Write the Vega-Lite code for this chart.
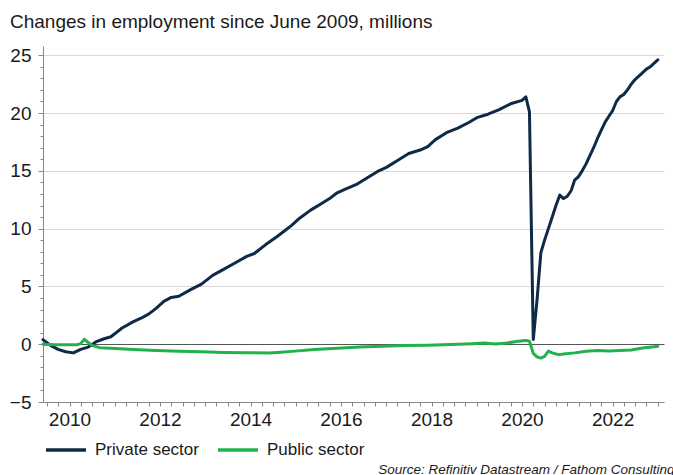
{
  "$schema": "https://vega.github.io/schema/vega-lite/v6.json",
  "width": 621,
  "height": 356,
  "autosize": {"type": "none"},
  "padding": {"left": 43, "top": 46, "right": 9, "bottom": 73},
  "background": "white",
  "config": {
    "font": "Liberation Sans",
    "view": {"stroke": null}
  },
  "title": {
    "text": "Changes in employment since June 2009, millions",
    "anchor": "start",
    "frame": "group",
    "dx": -33,
    "offset": 14,
    "fontSize": 19,
    "fontWeight": "normal",
    "color": "#1a1a1a"
  },
  "datasets": {
    "emp": [
      {"date": "2009-06-01", "series": "Private sector", "value": 0.4},
      {"date": "2009-08-01", "series": "Private sector", "value": -0.1},
      {"date": "2009-10-01", "series": "Private sector", "value": -0.45},
      {"date": "2009-12-01", "series": "Private sector", "value": -0.65},
      {"date": "2010-02-01", "series": "Private sector", "value": -0.75},
      {"date": "2010-04-01", "series": "Private sector", "value": -0.45},
      {"date": "2010-06-01", "series": "Private sector", "value": -0.25},
      {"date": "2010-08-01", "series": "Private sector", "value": 0.2},
      {"date": "2010-10-01", "series": "Private sector", "value": 0.45},
      {"date": "2010-12-01", "series": "Private sector", "value": 0.65},
      {"date": "2011-01-01", "series": "Private sector", "value": 0.9},
      {"date": "2011-03-01", "series": "Private sector", "value": 1.4},
      {"date": "2011-06-01", "series": "Private sector", "value": 1.95},
      {"date": "2011-08-01", "series": "Private sector", "value": 2.25},
      {"date": "2011-10-01", "series": "Private sector", "value": 2.6},
      {"date": "2011-12-01", "series": "Private sector", "value": 3.1},
      {"date": "2012-02-01", "series": "Private sector", "value": 3.7},
      {"date": "2012-04-01", "series": "Private sector", "value": 4.05},
      {"date": "2012-06-01", "series": "Private sector", "value": 4.15},
      {"date": "2012-09-01", "series": "Private sector", "value": 4.7},
      {"date": "2012-12-01", "series": "Private sector", "value": 5.2},
      {"date": "2013-03-01", "series": "Private sector", "value": 5.95},
      {"date": "2013-06-01", "series": "Private sector", "value": 6.5},
      {"date": "2013-09-01", "series": "Private sector", "value": 7.05},
      {"date": "2013-12-01", "series": "Private sector", "value": 7.6},
      {"date": "2014-02-01", "series": "Private sector", "value": 7.85},
      {"date": "2014-05-01", "series": "Private sector", "value": 8.6},
      {"date": "2014-08-01", "series": "Private sector", "value": 9.3},
      {"date": "2014-10-01", "series": "Private sector", "value": 9.8},
      {"date": "2014-12-01", "series": "Private sector", "value": 10.3},
      {"date": "2015-02-01", "series": "Private sector", "value": 10.9},
      {"date": "2015-05-01", "series": "Private sector", "value": 11.6},
      {"date": "2015-08-01", "series": "Private sector", "value": 12.2},
      {"date": "2015-10-01", "series": "Private sector", "value": 12.6},
      {"date": "2015-12-01", "series": "Private sector", "value": 13.1},
      {"date": "2016-02-01", "series": "Private sector", "value": 13.4},
      {"date": "2016-05-01", "series": "Private sector", "value": 13.8},
      {"date": "2016-08-01", "series": "Private sector", "value": 14.4},
      {"date": "2016-11-01", "series": "Private sector", "value": 15.0},
      {"date": "2017-01-01", "series": "Private sector", "value": 15.3},
      {"date": "2017-04-01", "series": "Private sector", "value": 15.9},
      {"date": "2017-07-01", "series": "Private sector", "value": 16.5},
      {"date": "2017-10-01", "series": "Private sector", "value": 16.8},
      {"date": "2017-12-01", "series": "Private sector", "value": 17.1},
      {"date": "2018-02-01", "series": "Private sector", "value": 17.7},
      {"date": "2018-05-01", "series": "Private sector", "value": 18.3},
      {"date": "2018-08-01", "series": "Private sector", "value": 18.7},
      {"date": "2018-11-01", "series": "Private sector", "value": 19.2},
      {"date": "2019-01-01", "series": "Private sector", "value": 19.6},
      {"date": "2019-04-01", "series": "Private sector", "value": 19.9},
      {"date": "2019-07-01", "series": "Private sector", "value": 20.3},
      {"date": "2019-10-01", "series": "Private sector", "value": 20.8},
      {"date": "2020-01-01", "series": "Private sector", "value": 21.1},
      {"date": "2020-02-01", "series": "Private sector", "value": 21.4},
      {"date": "2020-03-01", "series": "Private sector", "value": 20.1},
      {"date": "2020-04-01", "series": "Private sector", "value": 0.4},
      {"date": "2020-05-01", "series": "Private sector", "value": 3.8},
      {"date": "2020-06-01", "series": "Private sector", "value": 7.9},
      {"date": "2020-07-01", "series": "Private sector", "value": 9.0},
      {"date": "2020-08-01", "series": "Private sector", "value": 10.0},
      {"date": "2020-09-01", "series": "Private sector", "value": 11.0},
      {"date": "2020-10-01", "series": "Private sector", "value": 12.0},
      {"date": "2020-11-01", "series": "Private sector", "value": 12.9},
      {"date": "2020-12-01", "series": "Private sector", "value": 12.6},
      {"date": "2021-01-01", "series": "Private sector", "value": 12.8},
      {"date": "2021-02-01", "series": "Private sector", "value": 13.3},
      {"date": "2021-03-01", "series": "Private sector", "value": 14.2},
      {"date": "2021-04-01", "series": "Private sector", "value": 14.5},
      {"date": "2021-05-01", "series": "Private sector", "value": 15.0},
      {"date": "2021-06-01", "series": "Private sector", "value": 15.6},
      {"date": "2021-07-01", "series": "Private sector", "value": 16.3},
      {"date": "2021-08-01", "series": "Private sector", "value": 17.0},
      {"date": "2021-09-01", "series": "Private sector", "value": 17.8},
      {"date": "2021-10-01", "series": "Private sector", "value": 18.5},
      {"date": "2021-11-01", "series": "Private sector", "value": 19.2},
      {"date": "2021-12-01", "series": "Private sector", "value": 19.7},
      {"date": "2022-01-01", "series": "Private sector", "value": 20.2},
      {"date": "2022-02-01", "series": "Private sector", "value": 21.0},
      {"date": "2022-03-01", "series": "Private sector", "value": 21.4},
      {"date": "2022-04-01", "series": "Private sector", "value": 21.6},
      {"date": "2022-05-01", "series": "Private sector", "value": 22.0},
      {"date": "2022-06-01", "series": "Private sector", "value": 22.5},
      {"date": "2022-07-01", "series": "Private sector", "value": 22.9},
      {"date": "2022-08-01", "series": "Private sector", "value": 23.2},
      {"date": "2022-09-01", "series": "Private sector", "value": 23.5},
      {"date": "2022-10-01", "series": "Private sector", "value": 23.8},
      {"date": "2022-11-01", "series": "Private sector", "value": 24.0},
      {"date": "2022-12-01", "series": "Private sector", "value": 24.3},
      {"date": "2023-01-01", "series": "Private sector", "value": 24.6},

      {"date": "2009-06-01", "series": "Public sector", "value": 0.0},
      {"date": "2009-09-01", "series": "Public sector", "value": -0.05},
      {"date": "2009-12-01", "series": "Public sector", "value": -0.05},
      {"date": "2010-03-01", "series": "Public sector", "value": -0.05},
      {"date": "2010-04-01", "series": "Public sector", "value": 0.05},
      {"date": "2010-05-01", "series": "Public sector", "value": 0.42},
      {"date": "2010-06-01", "series": "Public sector", "value": 0.15},
      {"date": "2010-07-01", "series": "Public sector", "value": -0.1},
      {"date": "2010-09-01", "series": "Public sector", "value": -0.3},
      {"date": "2010-12-01", "series": "Public sector", "value": -0.35},
      {"date": "2011-06-01", "series": "Public sector", "value": -0.45},
      {"date": "2011-12-01", "series": "Public sector", "value": -0.55},
      {"date": "2012-06-01", "series": "Public sector", "value": -0.62},
      {"date": "2012-12-01", "series": "Public sector", "value": -0.66},
      {"date": "2013-06-01", "series": "Public sector", "value": -0.72},
      {"date": "2013-12-01", "series": "Public sector", "value": -0.74},
      {"date": "2014-06-01", "series": "Public sector", "value": -0.76},
      {"date": "2014-09-01", "series": "Public sector", "value": -0.7},
      {"date": "2014-12-01", "series": "Public sector", "value": -0.62},
      {"date": "2015-06-01", "series": "Public sector", "value": -0.45},
      {"date": "2015-12-01", "series": "Public sector", "value": -0.35},
      {"date": "2016-06-01", "series": "Public sector", "value": -0.25},
      {"date": "2016-12-01", "series": "Public sector", "value": -0.18},
      {"date": "2017-06-01", "series": "Public sector", "value": -0.12},
      {"date": "2017-12-01", "series": "Public sector", "value": -0.08},
      {"date": "2018-06-01", "series": "Public sector", "value": -0.02},
      {"date": "2018-12-01", "series": "Public sector", "value": 0.05},
      {"date": "2019-03-01", "series": "Public sector", "value": 0.1},
      {"date": "2019-06-01", "series": "Public sector", "value": 0.02},
      {"date": "2019-09-01", "series": "Public sector", "value": 0.1},
      {"date": "2019-12-01", "series": "Public sector", "value": 0.25},
      {"date": "2020-02-01", "series": "Public sector", "value": 0.33},
      {"date": "2020-03-01", "series": "Public sector", "value": 0.25},
      {"date": "2020-04-01", "series": "Public sector", "value": -0.8},
      {"date": "2020-05-01", "series": "Public sector", "value": -1.1},
      {"date": "2020-06-01", "series": "Public sector", "value": -1.2},
      {"date": "2020-07-01", "series": "Public sector", "value": -1.05},
      {"date": "2020-08-01", "series": "Public sector", "value": -0.6},
      {"date": "2020-09-01", "series": "Public sector", "value": -0.75},
      {"date": "2020-10-01", "series": "Public sector", "value": -0.85},
      {"date": "2020-11-01", "series": "Public sector", "value": -0.9},
      {"date": "2020-12-01", "series": "Public sector", "value": -0.85},
      {"date": "2021-03-01", "series": "Public sector", "value": -0.75},
      {"date": "2021-06-01", "series": "Public sector", "value": -0.6},
      {"date": "2021-09-01", "series": "Public sector", "value": -0.55},
      {"date": "2021-12-01", "series": "Public sector", "value": -0.58},
      {"date": "2022-03-01", "series": "Public sector", "value": -0.55},
      {"date": "2022-06-01", "series": "Public sector", "value": -0.5},
      {"date": "2022-09-01", "series": "Public sector", "value": -0.32},
      {"date": "2022-12-01", "series": "Public sector", "value": -0.22},
      {"date": "2023-01-01", "series": "Public sector", "value": -0.17}
    ]
  },
  "data": {"name": "emp"},
  "layer": [
    {
      "mark": {"type": "line", "strokeWidth": 3, "strokeJoin": "round", "strokeCap": "round"},
      "encoding": {
        "x": {
          "field": "date",
          "type": "temporal",
          "scale": {
            "type": "utc",
            "domain": [
              {"year": 2009, "month": 6, "date": 1, "utc": true},
              {"year": 2023, "month": 2, "date": 20, "utc": true}
            ]
          },
          "axis": {
            "title": "Source: Refinitiv Datastream / Fathom Consulting",
            "titleFontStyle": "italic",
            "titleFontWeight": "normal",
            "titleFontSize": 13.5,
            "titleColor": "#1a1a1a",
            "titleAnchor": "end",
            "titleAlign": "right",
            "titleBaseline": "alphabetic",
            "titleX": 631,
            "titleY": 71,
            "tickCount": {"interval": "month", "step": 3},
            "labelExpr": "utcmonth(datum.value) == 0 && utcyear(datum.value) % 2 == 0 ? '' + utcyear(datum.value) : ''",
            "labelOverlap": false,
            "labelFontSize": 19,
            "labelColor": "#1a1a1a",
            "labelPadding": 4,
            "tickSize": 4,
            "tickColor": "#888888",
            "domainColor": "#888888",
            "grid": false
          }
        },
        "y": {
          "field": "value",
          "type": "quantitative",
          "scale": {"domain": [-5, 25.8], "nice": false, "zero": false},
          "axis": {
            "title": null,
            "values": [-5, 0, 5, 10, 15, 20, 25],
            "grid": true,
            "gridColor": {"condition": {"test": "datum.value === 0", "value": "#555555"}, "value": "#d9d9d9"},
            "gridWidth": 1,
            "tickSize": 5,
            "tickColor": "#888888",
            "domainColor": "#888888",
            "labelFontSize": 19,
            "labelColor": "#1a1a1a",
            "labelPadding": 7
          }
        },
        "color": {
          "field": "series",
          "type": "nominal",
          "scale": {"domain": ["Private sector", "Public sector"], "range": ["#0f2a46", "#22b24c"]},
          "legend": {
            "title": null,
            "orient": "none",
            "legendX": 1,
            "legendY": 382,
            "direction": "horizontal",
            "symbolType": "stroke",
            "symbolSize": 1600,
            "symbolStrokeWidth": 3.5,
            "labelFontSize": 17,
            "labelColor": "#1a1a1a",
            "labelOffset": 7,
            "columnPadding": 12
          }
        }
      }
    },
    {
      "mark": {"type": "rule", "strokeOpacity": 0},
      "encoding": {
        "y": {
          "datum": 0,
          "type": "quantitative",
          "axis": {
            "orient": "left",
            "title": null,
            "values": [-4, -3, -2, -1, 1, 2, 3, 4, 6, 7, 8, 9, 11, 12, 13, 14, 16, 17, 18, 19, 21, 22, 23, 24],
            "labels": false,
            "grid": false,
            "domain": false,
            "tickSize": 3,
            "tickColor": "#888888"
          }
        }
      }
    }
  ],
  "resolve": {"axis": {"y": "independent"}}
}
